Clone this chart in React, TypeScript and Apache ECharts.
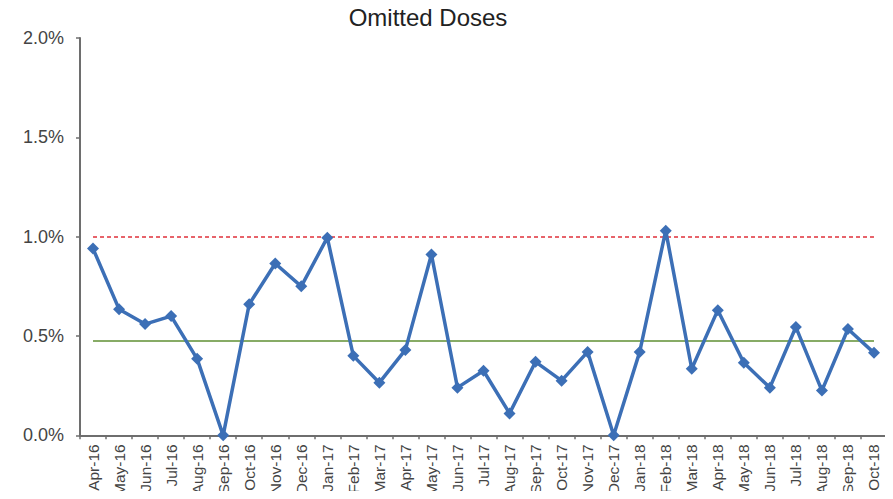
import React, { useEffect, useRef } from "react";
import * as echarts from "echarts";

const categories = [
  "Apr-16", "May-16", "Jun-16", "Jul-16", "Aug-16", "Sep-16", "Oct-16", "Nov-16", "Dec-16",
  "Jan-17", "Feb-17", "Mar-17", "Apr-17", "May-17", "Jun-17", "Jul-17", "Aug-17", "Sep-17",
  "Oct-17", "Nov-17", "Dec-17", "Jan-18", "Feb-18", "Mar-18", "Apr-18", "May-18", "Jun-18",
  "Jul-18", "Aug-18", "Sep-18", "Oct-18",
];

// Omitted doses rate, in percent
const omittedRate = [
  0.94, 0.635, 0.56, 0.6, 0.385, 0.0, 0.66, 0.865, 0.75,
  0.995, 0.4, 0.265, 0.43, 0.91, 0.24, 0.325, 0.11, 0.37,
  0.275, 0.42, 0.0, 0.42, 1.03, 0.335, 0.63, 0.365, 0.24,
  0.545, 0.225, 0.535, 0.415,
];

const upperLimit = 1.0;
const meanRate = 0.476;
const yTicks = [0, 0.5, 1.0, 1.5, 2.0];

const FONT = "'Liberation Sans', Arial, sans-serif";

export default function App() {
  const ref = useRef<HTMLDivElement>(null);

  useEffect(() => {
    if (!ref.current) return;
    const chart = echarts.init(ref.current, undefined, { renderer: "svg" });
    const first = categories[0];
    const last = categories[categories.length - 1];
    chart.setOption({
      animation: false,
      backgroundColor: "#ffffff",
      title: {
        text: "Omitted Doses",
        left: 423,
        textAlign: "center",
        top: 0,
        textStyle: { fontFamily: FONT, fontSize: 24, fontWeight: "normal", color: "#222" },
      },
      grid: { left: 80, right: 6, top: 38, bottom: 61, containLabel: false },
      xAxis: {
        type: "category",
        data: categories,
        boundaryGap: true,
        axisLine: { lineStyle: { color: "#6e6e6e", width: 2 } },
        axisTick: { show: true, alignWithLabel: false, length: 4, lineStyle: { color: "#6e6e6e", width: 1.5 } },
        axisLabel: {
          rotate: 90,
          interval: 0,
          margin: 9,
          fontFamily: FONT,
          fontSize: 15.5,
          color: "#444",
        },
        splitLine: { show: false },
      },
      yAxis: {
        type: "value",
        min: yTicks[0],
        max: yTicks[yTicks.length - 1],
        interval: 0.5,
        axisLine: { show: true, lineStyle: { color: "#6e6e6e", width: 2 } },
        axisTick: { show: true, length: 4, lineStyle: { color: "#6e6e6e", width: 1.5 } },
        axisLabel: {
          margin: 16,
          fontFamily: FONT,
          fontSize: 18,
          color: "#444",
          formatter: (v: number) => v.toFixed(1) + "%",
        },
        splitLine: { show: false },
      },
      series: [
        {
          name: "Omitted Doses",
          type: "line",
          data: omittedRate,
          lineStyle: { color: "#3c6fb6", width: 3.5 },
          itemStyle: { color: "#3c6fb6" },
          symbol: "diamond",
          symbolSize: 12,
          z: 5,
          markLine: {
            silent: true,
            symbol: "none",
            label: { show: false },
            data: [
              [
                { coord: [first, upperLimit], lineStyle: { color: "#e0303a", type: [4, 3], width: 1.6 } },
                { coord: [last, upperLimit] },
              ],
              [
                { coord: [first, meanRate], lineStyle: { color: "#5f8f33", type: "solid", width: 1.6 } },
                { coord: [last, meanRate] },
              ],
            ],
            z: 2,
          },
        },
      ],
    });
    return () => chart.dispose();
  }, []);

  return <div ref={ref} style={{ width: 893, height: 499, margin: -8 }} />;
}
